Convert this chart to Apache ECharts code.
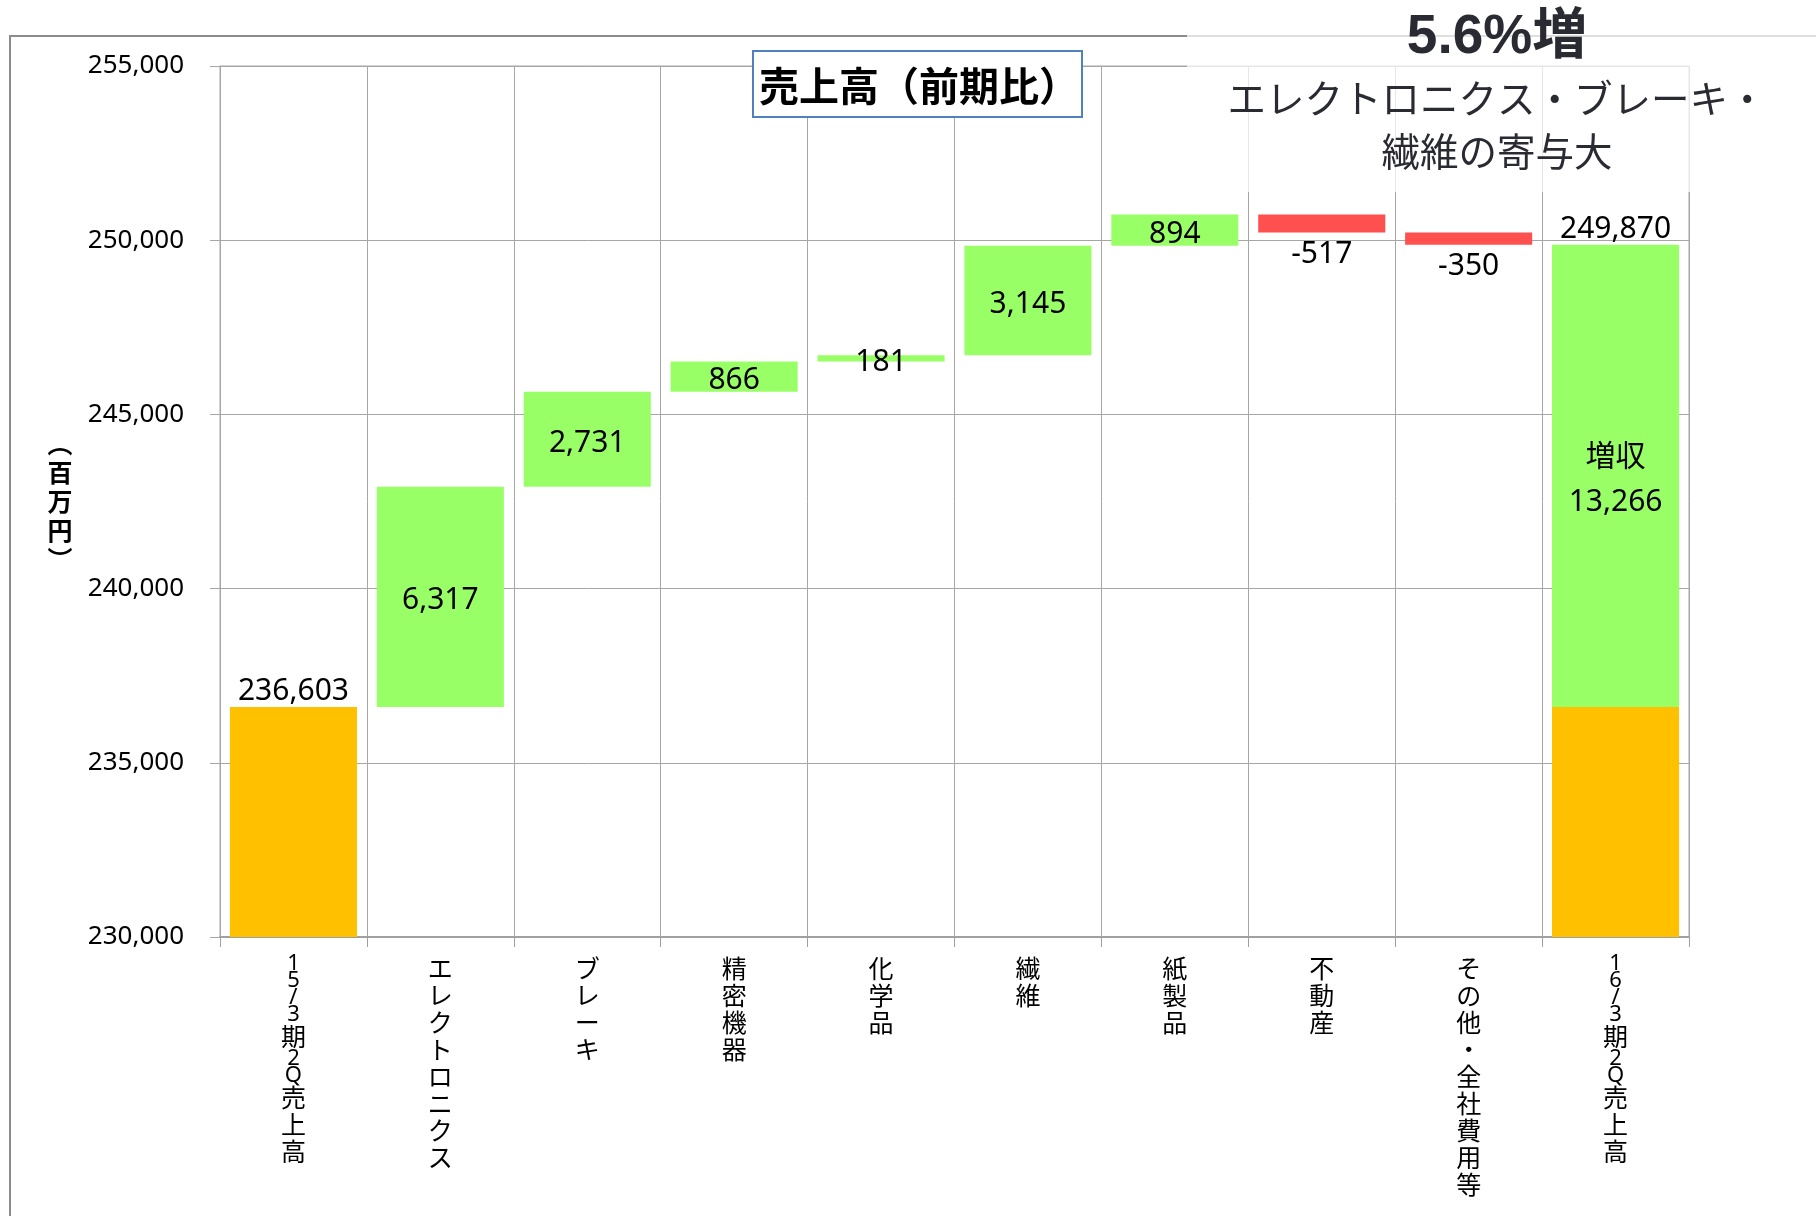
<!DOCTYPE html>
<html>
<head>
<meta charset="utf-8">
<script src="https://cdn.jsdelivr.net/npm/echarts@6/dist/echarts.min.js"></script>
<style>
html, body { margin: 0; padding: 0; background: #fff; }
#chart { width: 1816px; height: 1216px; }
</style>
</head>
<body>
<div id="chart"></div>
<script>
// 売上高（前期比）の増減要因
var categories = ['15/3期2Q売上高', 'エレクトロニクス', 'ブレーキ', '精密機器', '化学品', '繊維', '紙製品', '不動産', 'その他・全社費用等', '16/3期2Q売上高'];
var startValue = 236603;   // 15/3期2Q
var endValue = 249870;     // 16/3期2Q
var changes = [6317, 2731, 866, 181, 3145, 894, -517, -350];  // セグメント別増減
var totalChange = 13266;   // 増収
var yMin = 230000, yMax = 255000, yStep = 5000;

var CJK = '"Noto Sans CJK JP", sans-serif';
var LATIN = '"Noto Sans", "Noto Sans CJK JP", sans-serif';

function fmt(v) { return Math.round(v).toLocaleString('en-US'); }

// 縦書きラベル（半角は少し詰める）
function verticalLabel(s) {
  return s.split('').map(function (ch) {
    return /[0-9A-Za-z\/]/.test(ch) ? '{d|' + ch + '}' : '{c|' + ch + '}';
  }).join('\n');
}

// ウォーターフォール用の積み上げデータ
var n = categories.length;
var edgeData = [], baseData = [], upData = [], downData = [], topData = [];
var run = startValue;
for (var i = 0; i < n; i++) {
  edgeData.push(0); baseData.push(0); upData.push(0); downData.push(0); topData.push('-');
}
edgeData[0] = startValue;
for (var k = 0; k < changes.length; k++) {
  var d = changes[k];
  if (d >= 0) {
    baseData[k + 1] = run;
    upData[k + 1] = d;
    run += d;
  } else {
    run += d;
    baseData[k + 1] = run;
    downData[k + 1] = -d;
  }
}
edgeData[n - 1] = startValue;
upData[n - 1] = totalChange;
topData[n - 1] = endValue;

var labelFont = { fontSize: 30, fontFamily: LATIN, color: '#000', offset: [0, 4] };

var myecharts = echarts.init(document.getElementById('chart'));
myecharts.setOption({
  animation: false,
  grid: {
    left: 220,
    right: 127,
    top: 66,
    bottom: 279,
    show: true,
    borderColor: '#a6a6a6',
    borderWidth: 1
  },
  xAxis: {
    type: 'category',
    data: categories,
    axisLine: { lineStyle: { color: '#a0a0a0', width: 2 } },
    axisTick: { show: true, length: 10, lineStyle: { color: '#a0a0a0' } },
    splitLine: { show: true, lineStyle: { color: '#a6a6a6', width: 1 } },
    axisLabel: {
      interval: 0,
      margin: 18,
      formatter: function (v) { return verticalLabel(v); },
      rich: {
        c: { fontSize: 25, lineHeight: 27, fontFamily: CJK, color: '#000', align: 'center' },
        d: { fontSize: 22, lineHeight: 17, fontFamily: LATIN, color: '#000', align: 'center' }
      }
    }
  },
  yAxis: {
    type: 'value',
    min: yMin,
    max: yMax,
    interval: yStep,
    axisLine: { show: true, lineStyle: { color: '#a6a6a6', width: 1 } },
    axisTick: { show: true, length: 10, lineStyle: { color: '#a6a6a6' } },
    splitLine: { show: true, lineStyle: { color: '#a6a6a6', width: 1 } },
    axisLabel: {
      margin: 36,
      fontSize: 26,
      fontFamily: LATIN,
      color: '#000',
      padding: [9, 0, 0, 0],
      formatter: function (v) { return fmt(v); }
    }
  },
  series: [
    {
      name: '前期',
      type: 'bar',
      stack: 'w',
      barCategoryGap: '13.5%',
      itemStyle: { color: '#FFC000' },
      data: edgeData,
      label: Object.assign({
        show: true,
        position: 'top',
        distance: 4,
        formatter: function (p) { return p.dataIndex === 0 ? fmt(p.value) : ''; }
      }, labelFont)
    },
    {
      name: 'base',
      type: 'bar',
      stack: 'w',
      barCategoryGap: '13.5%',
      itemStyle: { color: 'rgba(0,0,0,0)' },
      data: baseData
    },
    {
      name: '増加',
      type: 'bar',
      stack: 'w',
      barCategoryGap: '13.5%',
      itemStyle: { color: '#99FF66' },
      data: upData,
      label: Object.assign({
        show: true,
        position: 'inside',
        formatter: function (p) {
          if (!p.value) return '';
          return p.dataIndex === n - 1 ? '増収\n' + fmt(p.value) : fmt(p.value);
        }
      }, labelFont, { lineHeight: 45 })
    },
    {
      name: '減少',
      type: 'bar',
      stack: 'w',
      barCategoryGap: '13.5%',
      itemStyle: { color: '#FF5050' },
      data: downData,
      label: Object.assign({
        show: true,
        position: 'bottom',
        distance: 3,
        formatter: function (p) { return p.value ? '-' + fmt(p.value) : ''; }
      }, labelFont)
    },
    {
      name: '当期',
      type: 'scatter',
      symbolSize: 0,
      itemStyle: { opacity: 1 },
      data: topData,
      label: Object.assign({
        show: true,
        position: 'top',
        distance: 4,
        formatter: function (p) { return fmt(p.value); }
      }, labelFont)
    }
  ],
  graphic: [
    {
      type: 'rect',
      z: 1,
      shape: { x: 10, y: 36, width: 1840, height: 1220 },
      style: { fill: 'none', stroke: '#8c8c8c', lineWidth: 2 }
    },
    {
      type: 'text',
      z: 50,
      x: 60,
      y: 501,
      style: {
        text: '︵\n百\n万\n円\n︶',
        fontSize: 25,
        fontWeight: 'bold',
        fontFamily: CJK,
        lineHeight: 29,
        fill: '#000',
        align: 'center',
        verticalAlign: 'middle'
      }
    },
    {
      type: 'rect',
      z: 100,
      shape: { x: 753, y: 51, width: 329, height: 66 },
      style: { fill: '#fff', stroke: '#4F81BD', lineWidth: 2 }
    },
    {
      type: 'text',
      z: 101,
      x: 919,
      y: 86,
      style: {
        text: '売上高（前期比）',
        fontSize: 40,
        fontWeight: 'bold',
        fontFamily: CJK,
        fill: '#000',
        align: 'center',
        verticalAlign: 'middle'
      }
    },
    {
      type: 'rect',
      z: 100,
      shape: { x: 1187, y: 16, width: 640, height: 176 },
      style: { fill: 'rgba(255,255,255,0.72)' }
    },
    {
      type: 'text',
      z: 101,
      x: 1497,
      y: 38,
      style: {
        text: '5.6%増',
        fontSize: 55,
        fontWeight: 'bold',
        fontFamily: '"Liberation Sans", "Noto Sans CJK JP", sans-serif',
        fill: '#2a2a33',
        align: 'center',
        verticalAlign: 'middle'
      }
    },
    {
      type: 'text',
      z: 101,
      x: 1497,
      y: 125,
      style: {
        text: 'エレクトロニクス・ブレーキ・\n繊維の寄与大',
        fontSize: 38.5,
        fontFamily: CJK,
        lineHeight: 53,
        fill: '#2a2a33',
        align: 'center',
        verticalAlign: 'middle'
      }
    }
  ]
});
</script>
</body>
</html>
